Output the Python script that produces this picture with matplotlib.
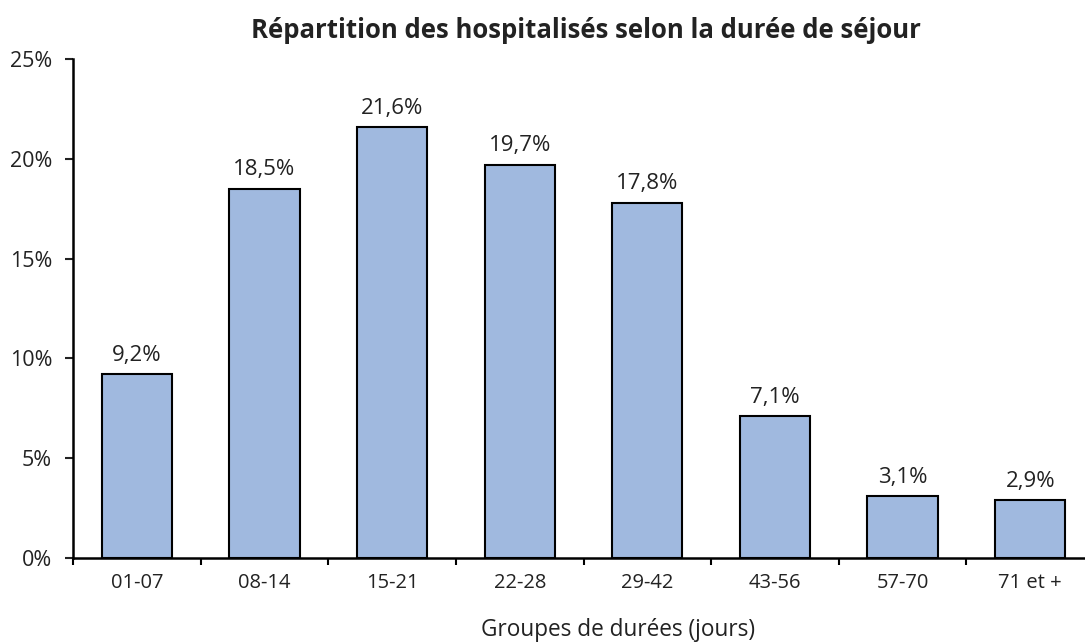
import matplotlib

matplotlib.use("Agg")
import matplotlib.pyplot as plt  # noqa: E402
import numpy as np  # noqa: E402

categories = ["01-07", "08-14", "15-21", "22-28", "29-42", "43-56", "57-70", "71 et +"]
shares = [9.2, 18.5, 21.6, 19.7, 17.8, 7.1, 3.1, 2.9]
yticks = [0, 5, 10, 15, 20, 25]

BAR = "#A0B9DF"
INK = "#222222"

plt.rcParams.update({"font.family": ["Open Sans", "DejaVu Sans"]})

fig = plt.figure(figsize=(10.85, 6.43), dpi=100)
ax = fig.add_axes([0.0673, 0.1322, 0.941, 0.776])

x = np.arange(len(categories))
bars = ax.bar(x, shares, width=0.55, color=BAR, edgecolor="black", linewidth=1.5, zorder=3)
for bar, v in zip(bars, shares):
    ax.annotate(f"{v:.1f}%".replace(".", ","), (bar.get_x() + bar.get_width() / 2, v),
                textcoords="offset points", xytext=(0, 6), ha="center", va="bottom",
                fontsize=16, color=INK)

ax.set_xlim(-0.5, len(categories) - 0.5)
ax.set_ylim(0, 25)
ax.set_yticks(yticks)
ax.set_yticklabels([f"{t}%" for t in yticks])
ax.set_xticks(x)
ax.set_xticklabels(categories)
ax.set_xticks(np.arange(len(categories)) - 0.5, minor=True)
ax.tick_params(axis="x", which="major", length=0, pad=11, labelsize=14.5, colors=INK)
ax.tick_params(axis="x", which="minor", length=5, width=1.5, direction="out")
ax.tick_params(axis="y", length=6, width=1.5, direction="out", pad=9, labelsize=15.5, colors=INK)

for side in ("top", "right"):
    ax.spines[side].set_visible(False)
for side in ("left", "bottom"):
    ax.spines[side].set_linewidth(1.8)

fig.text(0.54, 0.953, "Répartition des hospitalisés selon la durée de séjour",
         ha="center", va="center", fontsize=18.5, weight="bold", color=INK)
fig.text(0.57, 0.02, "Groupes de durées (jours)", ha="center", va="center",
         fontsize=16.3, color=INK)

fig.savefig("out.png", dpi=100, facecolor="white")
